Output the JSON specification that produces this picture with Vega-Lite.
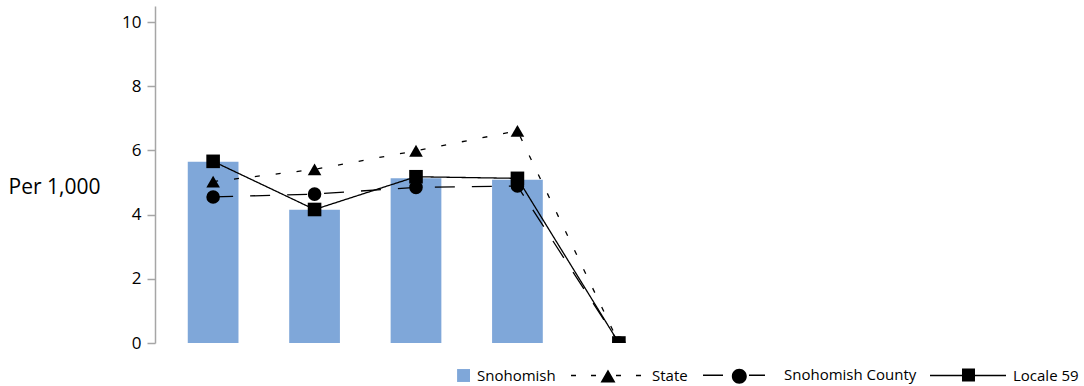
{
  "$schema": "https://vega.github.io/schema/vega-lite/v6.json",
  "width": 522,
  "height": 337,
  "autosize": {"type": "none"},
  "padding": {"left": 155, "top": 6, "right": 407, "bottom": 43},
  "background": "white",
  "config": {"view": {"stroke": null}, "font": "Open Sans"},
  "data": {
    "values": [
      {"cat": "1", "series": "Snohomish", "value": 5.65},
      {"cat": "2", "series": "Snohomish", "value": 4.15},
      {"cat": "3", "series": "Snohomish", "value": 5.13},
      {"cat": "4", "series": "Snohomish", "value": 5.09},
      {"cat": "1", "series": "State", "value": 5.03},
      {"cat": "2", "series": "State", "value": 5.41},
      {"cat": "3", "series": "State", "value": 5.99},
      {"cat": "4", "series": "State", "value": 6.61},
      {"cat": "5", "series": "State", "value": 0},
      {"cat": "1", "series": "Snohomish County", "value": 4.55},
      {"cat": "2", "series": "Snohomish County", "value": 4.64},
      {"cat": "3", "series": "Snohomish County", "value": 4.85},
      {"cat": "4", "series": "Snohomish County", "value": 4.89},
      {"cat": "5", "series": "Snohomish County", "value": 0},
      {"cat": "1", "series": "Locale 59", "value": 5.66},
      {"cat": "2", "series": "Locale 59", "value": 4.16},
      {"cat": "3", "series": "Locale 59", "value": 5.18},
      {"cat": "4", "series": "Locale 59", "value": 5.13},
      {"cat": "5", "series": "Locale 59", "value": 0}
    ]
  },
  "encoding": {
    "x": {
      "field": "cat",
      "type": "nominal",
      "axis": null,
      "scale": {"paddingInner": 0.5, "paddingOuter": 0.323}
    },
    "y": {
      "field": "value",
      "type": "quantitative",
      "scale": {"domain": [0, 10.5], "nice": false, "zero": true},
      "axis": {
        "values": [0, 2, 4, 6, 8, 10],
        "grid": false,
        "title": "Per 1,000",
        "titleAngle": 0,
        "titleAlign": "left",
        "titleBaseline": "middle",
        "titleX": -147,
        "titleY": 181,
        "titleFontSize": 21,
        "titleFontWeight": "normal",
        "titleColor": "#000000",
        "titleFont": "Open Sans",
        "labelFont": "Open Sans",
        "labelFontSize": 17,
        "labelColor": "#000000",
        "labelPadding": 6,
        "tickSize": 8,
        "tickColor": "#a6a6a6",
        "domainColor": "#a6a6a6",
        "tickWidth": 1.5,
        "domainWidth": 1.5
      }
    }
  },
  "layer": [
    {
      "transform": [{"filter": "datum.series === 'Snohomish'"}],
      "mark": {"type": "bar"},
      "encoding": {
        "color": {
          "field": "series",
          "type": "nominal",
          "scale": {
            "domain": ["Snohomish", "State", "Snohomish County", "Locale 59"],
            "range": ["#7fa7d9", "#000000", "#000000", "#000000"]
          },
          "legend": {
            "orient": "none",
            "legendX": 239,
            "legendY": 331,
            "direction": "horizontal",
            "title": null,
            "symbolSize": 5776,
            "labelOffset": 7,
            "columnPadding": 13,
            "labelFontSize": 15,
            "labelFont": "Open Sans",
            "labelColor": "#000000",
            "symbolStrokeWidth": 0,
            "encode": {
              "symbols": {
                "update": {
                  "shape": {"signal": "datum.value === 'Snohomish' ? 'M0.66,-0.17H1V0.17H0.66Z' : datum.value === 'State' ? 'M-0.947,-0.02H-0.816V0.02H-0.947Z M-0.421,-0.02H-0.289V0.02H-0.421Z M0.237,-0.02H0.368V0.02H0.237Z M0.763,-0.02H0.895V0.02H0.763Z M0.026,-0.158L0.223,0.184H-0.171Z' : datum.value === 'Snohomish County' ? 'M-0.947,-0.02H-0.421V0.02H-0.947Z M0.263,-0.02H0.684V0.02H0.263Z M0.205,0.026A0.197,0.197,0,1,1,-0.189,0.026A0.197,0.197,0,1,1,0.205,0.026Z' : 'M-1,-0.02H1V0.02H-1Z M-0.158,-0.184H0.184V0.158H-0.158Z'"},
                  "fill": {"signal": "datum.value === 'Snohomish' ? '#7fa7d9' : '#000000'"},
                  "stroke": {"value": "transparent"},
                  "opacity": {"value": 1}
                }
              }
            }
          }
        }
      }
    },
    {
      "transform": [{"filter": "datum.series !== 'Snohomish'"}],
      "mark": {"type": "line", "color": "#000000", "strokeWidth": 1.3, "clip": true},
      "encoding": {
        "strokeDash": {
          "field": "series",
          "type": "nominal",
          "scale": {
            "domain": ["State", "Snohomish County", "Locale 59"],
            "range": [[5, 16], [20, 17], [1, 0]]
          },
          "legend": null
        }
      }
    },
    {
      "transform": [{"filter": "datum.series !== 'Snohomish'"}],
      "mark": {"type": "point", "filled": true, "color": "#000000", "opacity": 1, "size": 185, "clip": true, "strokeWidth": 0},
      "encoding": {
        "shape": {
          "field": "series",
          "type": "nominal",
          "scale": {
            "domain": ["State", "Snohomish County", "Locale 59"],
            "range": ["triangle-up", "circle", "square"]
          },
          "legend": null
        }
      }
    }
  ]
}
